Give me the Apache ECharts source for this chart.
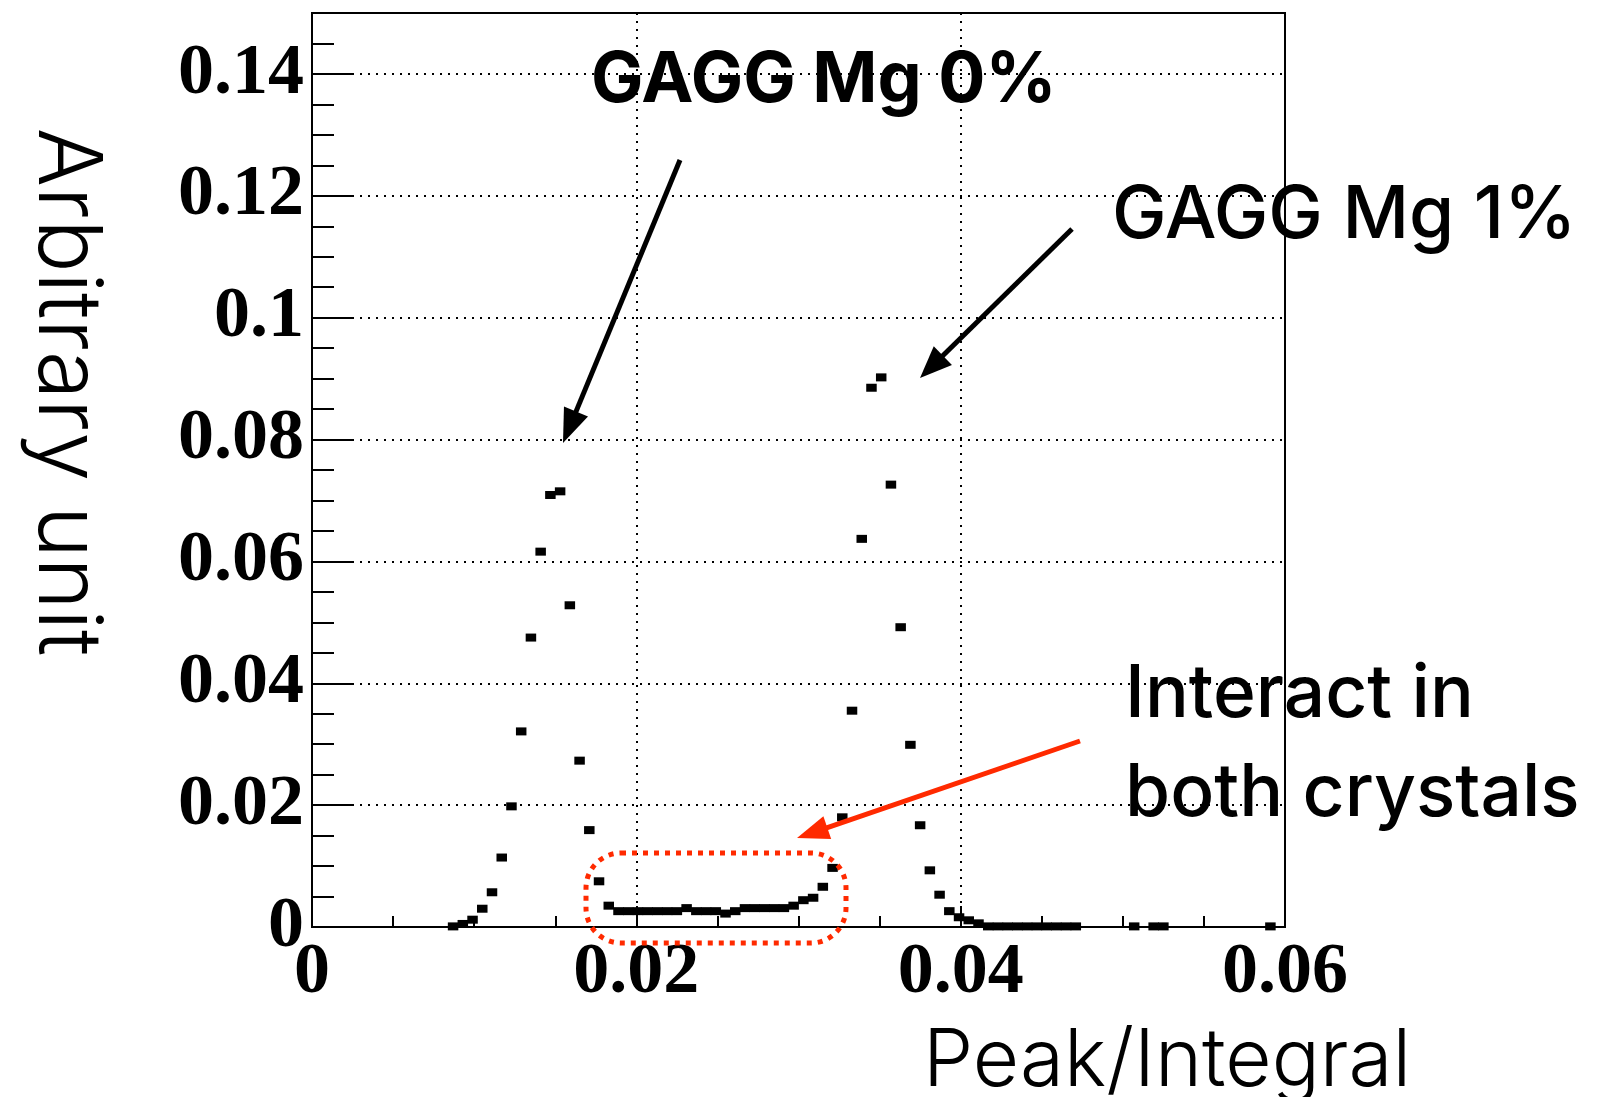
<!DOCTYPE html>
<html>
<head>
<meta charset="utf-8">
<script src="https://cdn.jsdelivr.net/npm/echarts@6/dist/echarts.min.js"></script>
<style>
  html, body { margin: 0; padding: 0; background: #fff; }
  #chart { width: 1612px; height: 1097px; }
</style>
</head>
<body>
<div id="chart"></div>
<script>
// Peak/Integral histogram: 100 bins over [0, 0.06], bin contents normalised (arbitrary unit)
const binWidth = 0.0006;
const firstBin = 14;           // index of the first bin listed below
const binContents = [
  0.0001, 0.0005, 0.0012, 0.0030, 0.0057, 0.0114, 0.0198, 0.0321, 0.0475, 0.0616, // 14-23
  0.0709, 0.0715, 0.0528, 0.0273, 0.0159, 0.0075, 0.0035, 0.0026, 0.0026, 0.0026, // 24-33
  0.0026, 0.0026, 0.0026, 0.0026, 0.0031, 0.0026, 0.0026, 0.0026, 0.0022, 0.0026, // 34-43
  0.0031, 0.0031, 0.0031, 0.0031, 0.0031, 0.0035, 0.0044, 0.0048, 0.0066, 0.0097, // 44-53
  0.0180, 0.0355, 0.0637, 0.0885, 0.0902, 0.0726, 0.0492, 0.0299, 0.0167, 0.0093, // 54-63
  0.0053, 0.0026, 0.0016, 0.0011, 0.0006, 0.0001, 0.0001, 0.0001, 0.0001, 0.0001, // 64-73
  0.0001, 0.0001, 0.0001, 0.0001, 0.0001, null,   null,   null,   null,   null,   // 74-83
  0.0001, null,   0.0001, 0.0001, null,   null,   null,   null,   null,   null,   // 84-93
  null,   null,   null,   null,   0.0001                                          // 94-98
];

// Axis ranges and tick labels
const xRange = [0, 0.06];
const yRange = [0, 0.15];
const xTickValues = [0, 0.02, 0.04, 0.06];
const xTickLabels = ['0', '0.02', '0.04', '0.06'];
const yTickValues = [0, 0.02, 0.04, 0.06, 0.08, 0.10, 0.12, 0.14];
const yTickLabels = ['0', '0.02', '0.04', '0.06', '0.08', '0.1', '0.12', '0.14'];

// Annotation texts
const titleX = 'Peak/Integral';
const titleY = 'Arbitrary unit';
const noteMg0 = 'GAGG Mg 0%';
const noteMg1 = 'GAGG Mg 1%';
const noteBoth = ['Interact in', 'both crystals'];

const points = [];
binContents.forEach((v, k) => {
  if (v !== null) points.push([(firstBin + k + 0.5) * binWidth, v]);
});

function labelFor(values, labels) {
  return function (v) {
    for (let i = 0; i < values.length; i++) {
      if (Math.abs(values[i] - v) < 1e-9) return labels[i];
    }
    return '';
  };
}

const RED = '#ff2a00';
const SANS = 'Inter, "Noto Sans", sans-serif';

function arrow(p0, p1, color, lineW, headLen, headHalf) {
  const dx = p1[0] - p0[0], dy = p1[1] - p0[1];
  const L = Math.hypot(dx, dy);
  const ux = dx / L, uy = dy / L;
  const bx = p1[0] - ux * headLen, by = p1[1] - uy * headLen;
  const nx = -uy, ny = ux;
  return [
    { type: 'line', z: 100,
      shape: { x1: p0[0], y1: p0[1], x2: bx + ux * 3, y2: by + uy * 3 },
      style: { stroke: color, lineWidth: lineW } },
    { type: 'polygon', z: 100,
      shape: { points: [[p1[0], p1[1]], [bx + nx * headHalf, by + ny * headHalf], [bx - nx * headHalf, by - ny * headHalf]] },
      style: { fill: color } }
  ];
}

function text(str, x, y, font, extra) {
  return Object.assign({
    type: 'text', z: 100, x: x, y: y,
    style: { text: str, font: font, fill: '#000', align: 'left', verticalAlign: 'middle' }
  }, extra || {});
}

const chart = echarts.init(document.getElementById('chart'), null, { renderer: 'canvas' });

const tickLabelStyle = {
  color: '#000', fontFamily: '"Liberation Serif", "Times New Roman", serif',
  fontWeight: 'bold', fontSize: 72
};

chart.setOption({
  animation: false,
  backgroundColor: '#fff',
  grid: {
    left: 312, right: 327, top: 13, bottom: 170,
    show: true, borderColor: '#000', borderWidth: 2,
    outerBoundsMode: 'none'
  },
  xAxis: {
    type: 'value', min: xRange[0], max: xRange[1], interval: 0.02,
    axisLine: { show: true, onZero: false, lineStyle: { color: '#000', width: 2 } },
    axisTick: { show: true, inside: true, length: 21, lineStyle: { color: '#000', width: 2 } },
    minorTick: { show: true, splitNumber: 4, length: 11, lineStyle: { color: '#000', width: 2 } },
    splitLine: { show: true, lineStyle: { color: '#000', width: 2, type: [2, 6] } },
    axisLabel: Object.assign({ margin: 10, formatter: labelFor(xTickValues, xTickLabels) }, tickLabelStyle)
  },
  yAxis: {
    type: 'value', min: yRange[0], max: yRange[1], interval: 0.02,
    axisLine: { show: true, lineStyle: { color: '#000', width: 2 } },
    axisTick: { show: true, inside: true, length: 41, lineStyle: { color: '#000', width: 2 } },
    minorTick: { show: true, splitNumber: 4, length: 22, lineStyle: { color: '#000', width: 2 } },
    splitLine: { show: true, lineStyle: { color: '#000', width: 2, type: [2, 6] } },
    axisLabel: Object.assign({ margin: 8, showMaxLabel: false, formatter: labelFor(yTickValues, yTickLabels) }, tickLabelStyle)
  },
  series: [{
    name: 'Peak/Integral',
    type: 'scatter',
    data: points,
    symbol: 'rect',
    symbolSize: [10.5, 8],
    itemStyle: { color: '#000', opacity: 1 },
    z: 5
  }],
  graphic: [
    text(titleY, 65, 392, '300 88px ' + SANS, { rotation: -Math.PI / 2, style: { text: titleY, font: '300 88px ' + SANS, fill: '#000', align: 'center', verticalAlign: 'middle' } }),
    text(titleX, 923, 1062, '300 80px ' + SANS),
    text(noteMg0, 591, 81, '700 70px ' + SANS),
    text(noteMg1, 1112, 216, '500 73px ' + SANS),
    text(noteBoth[0], 1125, 695, '500 73px ' + SANS),
    text(noteBoth[1], 1125, 794, '500 73px ' + SANS),
    ...arrow([680, 160], [563, 443], '#000', 5, 34, 13),
    ...arrow([1072, 229], [920, 378], '#000', 5, 32, 13),
    ...arrow([1080, 741], [797, 838], RED, 5, 32, 12),
    { type: 'rect', z: 100,
      shape: { x: 586, y: 853, width: 260, height: 90, r: 35 },
      style: { fill: 'none', stroke: RED, lineWidth: 5, lineDash: [5, 6] } }
  ]
});
</script>
</body>
</html>
